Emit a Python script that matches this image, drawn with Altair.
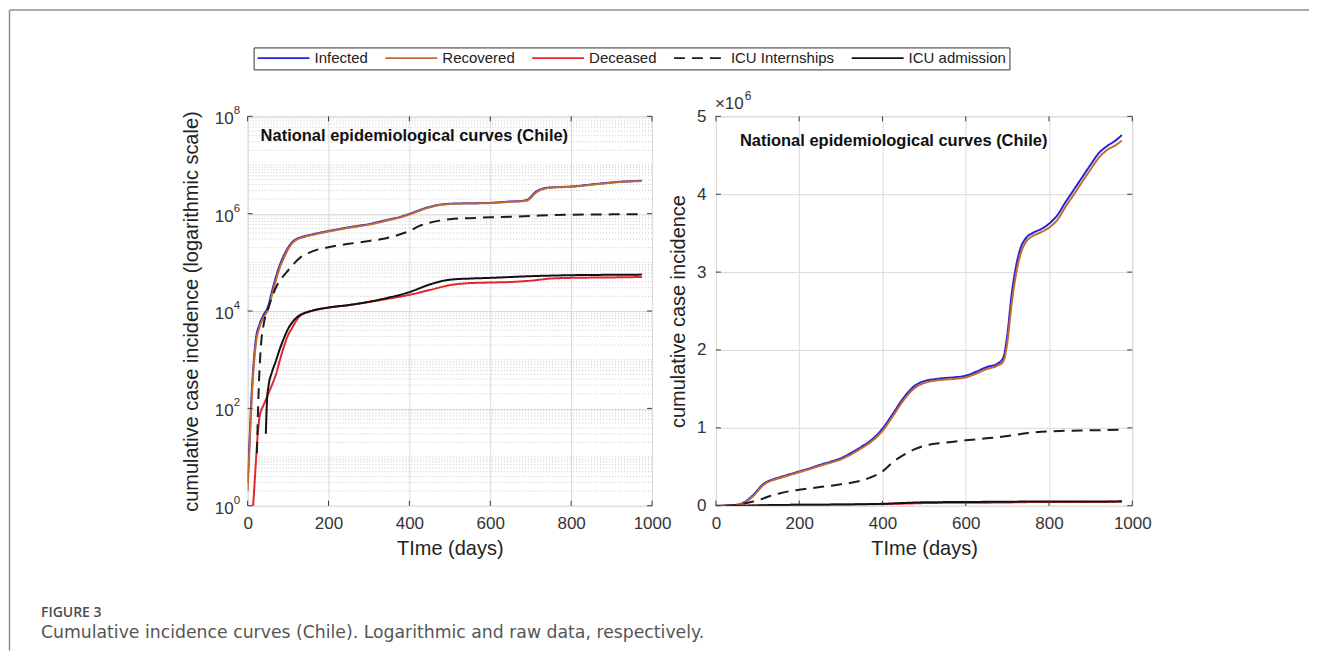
import altair as alt
import pandas as pd

# ---------------- data ----------------
series_names = ["Infected", "Recovered", "Deceased", "ICU Internships", "ICU admission"]
series_colors = ["#2424d8", "#c4692f", "#e3262c", "#1c1c1c", "#111111"]
series_dash = [[1, 0], [1, 0], [1, 0], [11, 7], [1, 0]]

infected_days = [0, 5, 10, 15, 20, 30, 40, 50, 60, 70, 80, 90, 100, 110, 120, 135, 150, 175,
                 200, 225, 250, 275, 300, 325, 350, 375, 400, 425, 450, 475, 500, 525, 550,
                 575, 600, 625, 650, 675, 690, 700, 710, 720, 730, 745, 760, 780, 800, 820,
                 840, 860, 880, 900, 920, 940, 960, 975]
infected_vals = [3, 25, 200, 900, 2500, 5500, 8500, 12000, 25000, 50000, 90000, 140000, 200000,
                 260000, 300000, 335000, 360000, 400000, 440000, 480000, 525000, 565000, 610000,
                 680000, 760000, 850000, 990000, 1180000, 1380000, 1530000, 1600000, 1625000,
                 1640000, 1650000, 1670000, 1720000, 1780000, 1820000, 1900000, 2200000, 2700000,
                 3050000, 3280000, 3440000, 3500000, 3550000, 3620000, 3730000, 3900000, 4060000,
                 4220000, 4380000, 4530000, 4620000, 4690000, 4760000]

recovered_days = infected_days
recovered_vals = [2, 18, 150, 700, 2000, 4800, 7500, 10500, 21000, 43000, 80000, 125000, 185000,
                  245000, 288000, 325000, 350000, 390000, 430000, 470000, 513000, 552000, 595000,
                  660000, 740000, 830000, 960000, 1150000, 1350000, 1500000, 1575000, 1605000,
                  1620000, 1630000, 1648000, 1695000, 1755000, 1795000, 1850000, 2100000, 2580000,
                  2950000, 3200000, 3390000, 3460000, 3510000, 3570000, 3670000, 3840000, 4000000,
                  4160000, 4320000, 4470000, 4570000, 4630000, 4690000]

deceased_days = [12, 15, 20, 25, 30, 40, 50, 60, 70, 80, 90, 100, 110, 120, 130, 145, 160, 200,
                 250, 300, 350, 400, 450, 500, 550, 600, 650, 700, 750, 800, 900, 975]
deceased_vals = [0.7, 1.5, 7, 30, 70, 120, 190, 300, 500, 1000, 1900, 3200, 4500, 6300, 8000,
                 9300, 10200, 11800, 13200, 15300, 18000, 21500, 27000, 34000, 37500, 38500,
                 39500, 42000, 46500, 48000, 49000, 50000]

icu_int_days = [23, 27, 33, 40, 50, 60, 72, 85, 100, 115, 130, 150, 175, 200, 250, 300, 340,
                370, 400, 425, 450, 475, 500, 550, 600, 650, 700, 750, 800, 900, 975]
icu_int_vals = [12, 200, 2000, 5500, 11000, 19000, 33000, 48000, 68000, 95000, 125000, 155000,
                185000, 205000, 240000, 275000, 310000, 360000, 440000, 560000, 650000, 720000,
                770000, 810000, 840000, 865000, 895000, 935000, 955000, 968000, 975000]

icu_adm_days = [45, 48, 52, 60, 70, 80, 90, 100, 110, 120, 130, 145, 160, 200, 250, 300, 350,
                400, 450, 500, 550, 600, 700, 800, 900, 975]
icu_adm_vals = [30, 150, 300, 550, 950, 1700, 2800, 4300, 5800, 7200, 8300, 9400, 10200, 11800,
                13300, 15500, 19000, 24500, 35000, 44000, 46500, 48000, 52000, 54500, 55500, 56000]

x_ticks = [0, 200, 400, 600, 800, 1000]
log_ticks = [1, 1e2, 1e4, 1e6, 1e8]
log_exponents = ["0", "2", "4", "6", "8"]
lin_ticks = [0, 1e6, 2e6, 3e6, 4e6, 5e6]
log_minor = [k * 10 ** n for n in range(0, 8) for k in range(2, 10)] + [10, 1e3, 1e5, 1e7]

panel_title = "National epidemiological curves (Chile)"
x_title = "TIme (days)"
y_title_log = "cumulative case incidence (logarithmic scale)"
y_title_lin = "cumulative case incidence"
exp_base = "×10"
exp_power = "6"
fig_label = "FIGURE 3"
fig_caption = "Cumulative incidence curves (Chile). Logarithmic and raw data, respectively."

rows = []
for name, d, v in [("Infected", infected_days, infected_vals),
                   ("Recovered", recovered_days, recovered_vals),
                   ("Deceased", deceased_days, deceased_vals),
                   ("ICU Internships", icu_int_days, icu_int_vals),
                   ("ICU admission", icu_adm_days, icu_adm_vals)]:
    for dd, vv in zip(d, v):
        rows.append({"series": name, "day": dd, "value": vv})
df = pd.DataFrame(rows)

# ---------------- styling ----------------
FONT = "Liberation Sans"
W1, W2, H = 405, 417, 390
GRID = "#dadada"
AX = "#3a3a3a"
LABEL_C = "#333333"

legend = alt.Legend(orient="none", legendX=6, legendY=-69, direction="horizontal", title=None,
                    symbolType="stroke", symbolSize=2704, symbolStrokeWidth=1.8,
                    clipHeight=15, labelFont=FONT, labelFontSize=15, labelColor="#222",
                    strokeColor="#333", fillColor="#ffffff", padding=3, columnPadding=16,
                    labelOffset=4)

color = alt.Color("series:N", scale=alt.Scale(domain=series_names, range=series_colors),
                  legend=legend)
dash = alt.StrokeDash("series:N", scale=alt.Scale(domain=series_names, range=series_dash),
                      legend=legend)

xscale = alt.Scale(domain=[0, 1000], nice=False)
logscale = alt.Scale(type="log", domain=[1, 1e8], nice=False)
linscale = alt.Scale(domain=[0, 5e6], nice=False)

xaxis = alt.Axis(values=x_ticks, format="d", title=x_title, grid=True, gridColor=GRID,
                 ticks=False, domain=False, labelFont=FONT, labelFontSize=17, labelColor=LABEL_C,
                 labelPadding=10, titleFont=FONT, titleFontSize=20, titleFontWeight="normal",
                 titleColor="#222", titlePadding=7, labelFlush=False)

yaxis_log = alt.Axis(values=log_ticks, labels=False, title=y_title_log, grid=True,
                     gridColor=GRID, ticks=False, domain=False, titleFont=FONT,
                     titleFontSize=20, titleFontWeight="normal", titleColor="#222",
                     titlePadding=46)
yaxis_lin = alt.Axis(values=lin_ticks, labelExpr="format(datum.value / 1e6, 'd')",
                     title=y_title_lin, grid=True, gridColor=GRID, ticks=False, domain=False,
                     labelFont=FONT, labelFontSize=17, labelColor=LABEL_C, labelPadding=10,
                     titleFont=FONT, titleFontSize=20, titleFontWeight="normal",
                     titleColor="#222", titlePadding=8, labelFlush=False)


def tick_layers(yscale, yaxis, yticks, w):
    xt = pd.DataFrame({"t": x_ticks})
    yt = pd.DataFrame({"t": yticks})
    base_x = alt.Chart(xt).mark_rule(color=AX, strokeWidth=1)
    base_y = alt.Chart(yt).mark_rule(color=AX, strokeWidth=1)
    return [
        base_x.encode(x=alt.X("t:Q", scale=xscale, axis=xaxis), y=alt.value(H), y2=alt.value(H - 5)),
        base_x.encode(x=alt.X("t:Q", scale=xscale, axis=xaxis), y=alt.value(0), y2=alt.value(5)),
        base_y.encode(y=alt.Y("t:Q", scale=yscale, axis=yaxis), x=alt.value(0), x2=alt.value(5)),
        base_y.encode(y=alt.Y("t:Q", scale=yscale, axis=yaxis), x=alt.value(w), x2=alt.value(w - 5)),
    ]


def lines(yscale, yaxis):
    return alt.Chart(df).mark_line(strokeWidth=2, clip=True, interpolate="monotone").encode(
        x=alt.X("day:Q", scale=xscale, axis=xaxis),
        y=alt.Y("value:Q", scale=yscale, axis=yaxis),
        color=color,
        strokeDash=dash,
        order=alt.Order("day:Q"),
    )


def label_text(xpos, ypos):
    return alt.Chart(pd.DataFrame({"t": [panel_title]})).mark_text(
        font=FONT, fontSize=16.5, fontWeight="bold", color="#111", align="left", baseline="middle"
    ).encode(text="t:N", x=alt.value(xpos), y=alt.value(ypos))


# log-axis tick labels with real superscripts
log_lab_df = pd.DataFrame({"t": log_ticks, "e": log_exponents})
log_base_lab = alt.Chart(log_lab_df).mark_text(
    font=FONT, fontSize=17, color=LABEL_C, align="right", baseline="middle", dy=3
).encode(y=alt.Y("t:Q", scale=logscale, axis=yaxis_log), x=alt.value(-14), text=alt.value("10"))
log_exp_lab = alt.Chart(log_lab_df).mark_text(
    font=FONT, fontSize=11.5, color=LABEL_C, align="left", baseline="middle", dy=-5
).encode(y=alt.Y("t:Q", scale=logscale, axis=yaxis_log), x=alt.value(-14), text="e:N")

minor = alt.Chart(pd.DataFrame({"m": log_minor})).mark_rule(
    color="#c9c9c9", strokeWidth=1, strokeDash=[1, 2]
).encode(y=alt.Y("m:Q", scale=logscale, axis=yaxis_log))

border = alt.Chart(pd.DataFrame({"a": [0]})).mark_rule(color="#8c8c8c", strokeWidth=1.5)
border_top = border.encode(x=alt.value(-238.5), x2=alt.value(1063), y=alt.value(-106.5))
border_left = border.encode(x=alt.value(-238.5), y=alt.value(-106.5), y2=alt.value(535))

fig_lab = alt.Chart(pd.DataFrame({"t": [fig_label]})).mark_text(
    font="Open Sans", fontSize=14, fontWeight=600, color="#4d4d4d", align="left",
    baseline="middle").encode(text="t:N", x=alt.value(-207), y=alt.value(497))
fig_cap = alt.Chart(pd.DataFrame({"t": [fig_caption]})).mark_text(
    font="DejaVu Sans", fontSize=17.3, color="#555555", align="left",
    baseline="middle").encode(text="t:N", x=alt.value(-207), y=alt.value(517))

left = alt.layer(
    minor, lines(logscale, yaxis_log), *tick_layers(logscale, yaxis_log, log_ticks, W1),
    log_base_lab, log_exp_lab,
    label_text(13, 20), border_top, border_left, fig_lab, fig_cap
).properties(width=W1, height=H)

exp_txt = alt.Chart(pd.DataFrame({"t": [exp_base]})).mark_text(
    font=FONT, fontSize=17, color=LABEL_C, align="left", baseline="middle"
).encode(text="t:N", x=alt.value(-1), y=alt.value(-12))
exp_pow = alt.Chart(pd.DataFrame({"t": [exp_power]})).mark_text(
    font=FONT, fontSize=12, color=LABEL_C, align="left", baseline="middle"
).encode(text="t:N", x=alt.value(29), y=alt.value(-20))

right = alt.layer(
    lines(linscale, yaxis_lin), *tick_layers(linscale, yaxis_lin, lin_ticks, W2),
    label_text(24, 25), exp_txt, exp_pow
).properties(width=W2, height=H)

chart = alt.hconcat(left, right, spacing=64, bounds="flush").properties(
    padding=0
).configure_view(stroke=AX, strokeWidth=1).configure(background="white")

chart.save("out.html", embed_options={"renderer": "svg", "actions": False})
